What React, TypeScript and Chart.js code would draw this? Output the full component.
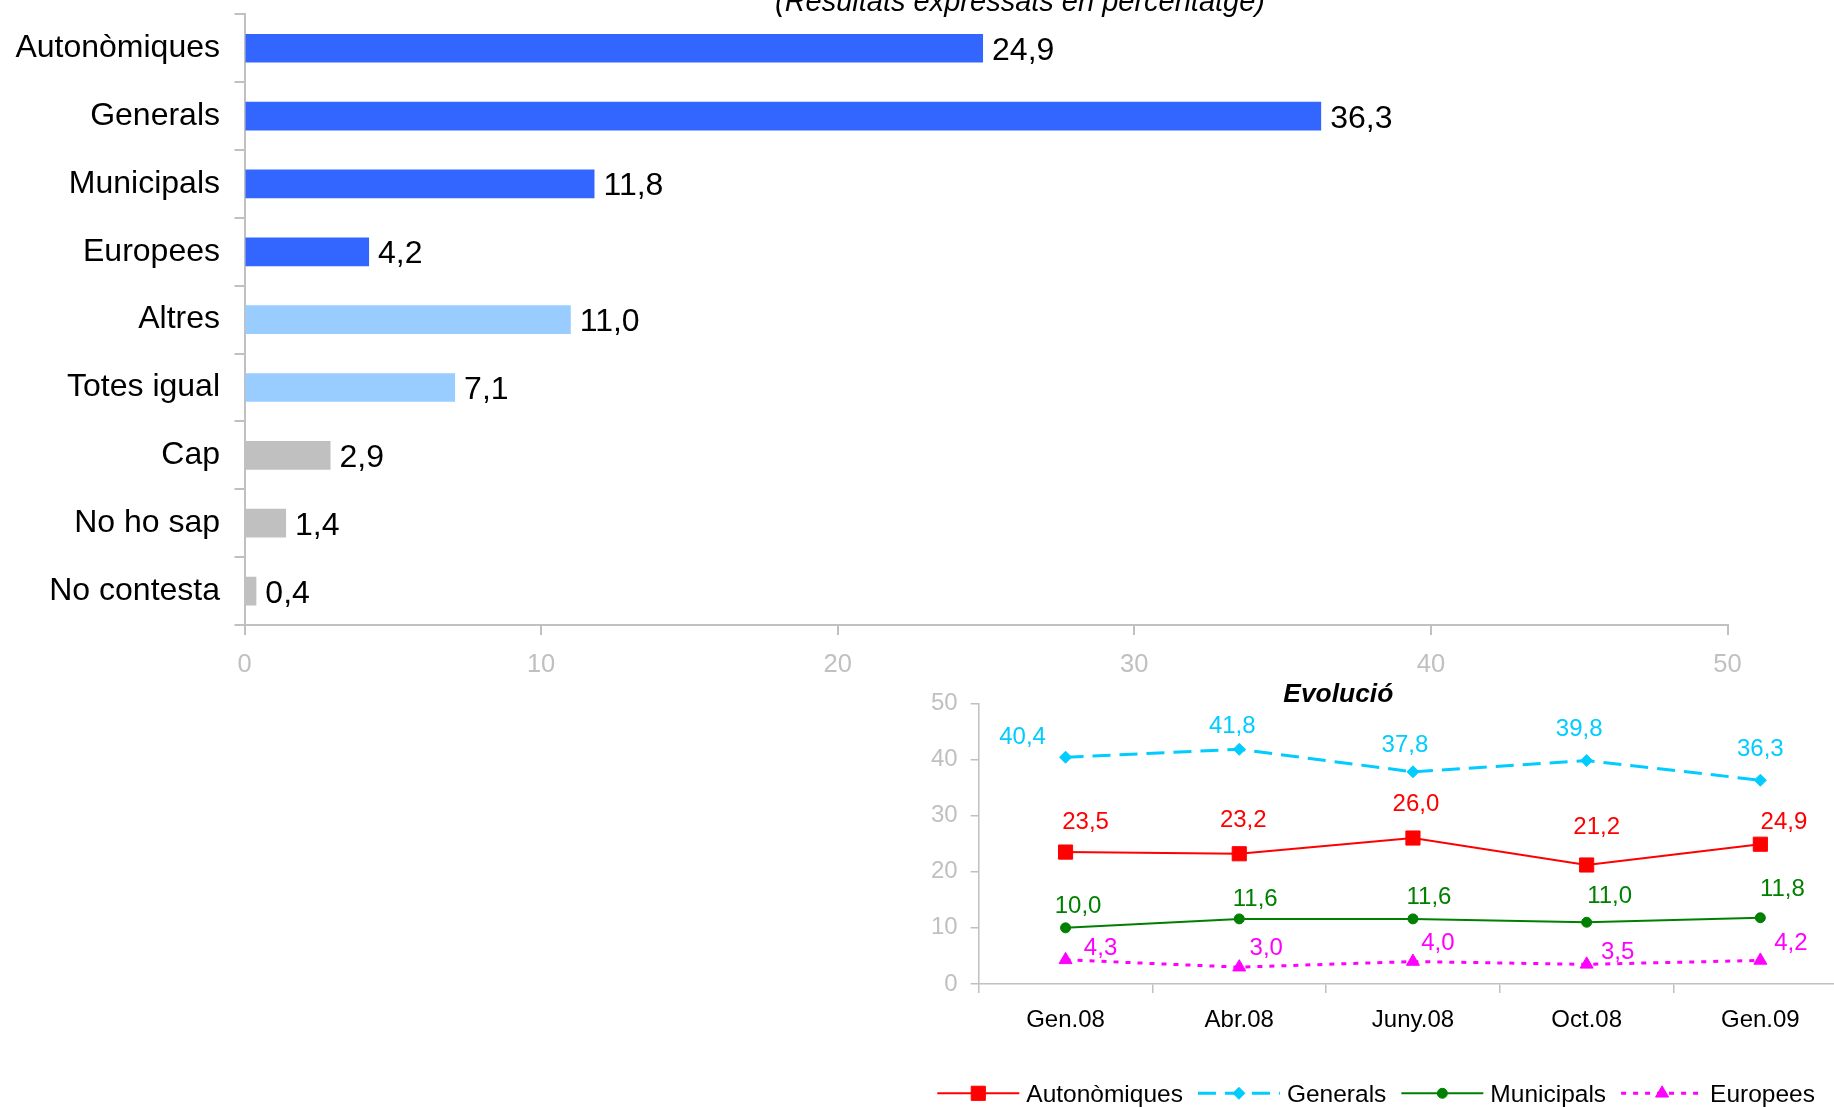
import React, { useEffect, useRef } from 'react';
import { Chart, registerables } from 'chart.js';

Chart.register(...registerables);

const FONT = "'Liberation Sans', Arial, sans-serif";

// ---------- Bar chart data ----------
const barCategories = ['Autonòmiques', 'Generals', 'Municipals', 'Europees', 'Altres', 'Totes igual', 'Cap', 'No ho sap', 'No contesta'];
const barValues = [24.9, 36.3, 11.8, 4.2, 11.0, 7.1, 2.9, 1.4, 0.4];
const barColors = ['#3366FF', '#3366FF', '#3366FF', '#3366FF', '#99CCFF', '#99CCFF', '#C0C0C0', '#C0C0C0', '#C0C0C0'];
const barTitle = '(Resultats expressats en percentatge)';

// ---------- Line chart data ----------
const periods = ['Gen.08', 'Abr.08', 'Juny.08', 'Oct.08', 'Gen.09'];
const seriesNames = ['Autonòmiques', 'Generals', 'Municipals', 'Europees'];
const autonomiques = [23.5, 23.2, 26.0, 21.2, 24.9];
const generals = [40.4, 41.8, 37.8, 39.8, 36.3];
const municipals = [10.0, 11.6, 11.6, 11.0, 11.8];
const europees = [4.3, 3.0, 4.0, 3.5, 4.2];
const lineTitle = 'Evolució';

// ---------- styles ----------
const seriesStyles = [
  { color: '#FF0000', width: 2, dash: [] as number[], marker: 'rect', radius: 10 },
  { color: '#00CCFF', width: 3, dash: [18, 9], marker: 'rectRot', radius: 6 },
  { color: '#008000', width: 2, dash: [] as number[], marker: 'circle', radius: 5 },
  { color: '#FF00FF', width: 3, dash: [5, 7], marker: 'triangle', radius: 7.5 },
];
const labelDx = [
  [20, 4, 3, 10, 23.6],
  [-43, -7, -8, -7.5, 0],
  [12.5, 16, 16, 23, 22],
  [35, 27, 25, 31, 30.6],
];
const labelDy = [
  [-32, -35, -36, -39.6, -23.6],
  [-21.6, -25, -28, -33, -33],
  [-23.4, -21.7, -23.7, -28, -30],
  [-13, -20.5, -20, -14.4, -18.7],
];

const fmt = (v: number) => v.toFixed(1).replace('.', ',');

function drawMarker(ctx: CanvasRenderingContext2D, type: string, x: number, y: number, r: number, color: string) {
  ctx.save();
  ctx.fillStyle = color;
  ctx.strokeStyle = color;
  ctx.lineWidth = 1;
  ctx.setLineDash([]);
  ctx.beginPath();
  if (type === 'rect') {
    const s = Math.SQRT1_2 * r;
    ctx.rect(x - s, y - s, 2 * s, 2 * s);
  } else if (type === 'rectRot') {
    ctx.moveTo(x - r, y);
    ctx.lineTo(x, y - r);
    ctx.lineTo(x + r, y);
    ctx.lineTo(x, y + r);
    ctx.closePath();
  } else if (type === 'circle') {
    ctx.arc(x, y, r, 0, Math.PI * 2);
  } else {
    const w = r * Math.sin(Math.PI / 3);
    ctx.moveTo(x, y - r);
    ctx.lineTo(x + w, y + r / 2);
    ctx.lineTo(x - w, y + r / 2);
    ctx.closePath();
  }
  ctx.fill();
  ctx.stroke();
  ctx.restore();
}

const barLabelsPlugin = {
  id: 'barLabels',
  afterDatasetsDraw(chart: any) {
    const ctx = chart.ctx as CanvasRenderingContext2D;
    const meta = chart.getDatasetMeta(0);
    ctx.save();
    ctx.font = `32px ${FONT}`;
    ctx.fillStyle = '#000';
    ctx.textAlign = 'left';
    ctx.textBaseline = 'alphabetic';
    meta.data.forEach((el: any, i: number) => {
      ctx.fillText(fmt(barValues[i]), el.x + 9, el.y + 11.5);
    });
    ctx.font = `italic 29px ${FONT}`;
    ctx.textAlign = 'center';
    ctx.fillText(barTitle, 1020, 11);
    ctx.restore();
  },
};

const insetPlugin = {
  id: 'insetExtras',
  afterDatasetsDraw(chart: any) {
    const ctx = chart.ctx as CanvasRenderingContext2D;
    ctx.save();
    ctx.textAlign = 'center';
    ctx.textBaseline = 'alphabetic';
    ctx.font = `24px ${FONT}`;
    chart.data.datasets.forEach((ds: any, i: number) => {
      const meta = chart.getDatasetMeta(i);
      ctx.fillStyle = seriesStyles[i].color;
      meta.data.forEach((el: any, j: number) => {
        ctx.fillText(fmt(ds.data[j]), el.x + labelDx[i][j], el.y + labelDy[i][j] + 8.6);
      });
    });
    // title
    ctx.font = `italic bold 26.4px ${FONT}`;
    ctx.fillStyle = '#000';
    ctx.fillText(lineTitle, 438.3, 51.7);
    // legend
    let x = 37.3;
    const y = 443.3;
    ctx.font = `24.5px ${FONT}`;
    seriesNames.forEach((name, i) => {
      const st = seriesStyles[i];
      ctx.save();
      ctx.strokeStyle = st.color;
      ctx.lineWidth = st.width;
      ctx.setLineDash(st.dash);
      ctx.beginPath();
      ctx.moveTo(x, y);
      ctx.lineTo(x + 82, y);
      ctx.stroke();
      ctx.restore();
      drawMarker(ctx, st.marker, x + 41, y, st.radius, st.color);
      ctx.fillStyle = '#000';
      ctx.textAlign = 'left';
      ctx.fillText(name, x + 89, y + 0.358 * 24.5);
      x += 89 + ctx.measureText(name).width + 15;
    });
    ctx.restore();
  },
};

export default function App() {
  const barRef = useRef<HTMLCanvasElement>(null);
  const lineRef = useRef<HTMLCanvasElement>(null);

  useEffect(() => {
    const bar = new Chart(barRef.current as HTMLCanvasElement, {
      type: 'bar',
      data: {
        labels: barCategories,
        datasets: [
          {
            data: barValues,
            backgroundColor: barColors,
            borderWidth: 0,
            barPercentage: 0.423,
            categoryPercentage: 1,
          },
        ],
      },
      options: {
        indexAxis: 'y',
        responsive: false,
        maintainAspectRatio: false,
        animation: false,
        events: [],
        layout: { padding: { left: 0, top: 14.3, right: 106.5, bottom: 25 } },
        plugins: {
          legend: { display: false },
          title: { display: false },
          tooltip: { enabled: false },
        },
        scales: {
          x: {
            type: 'linear',
            min: 0,
            max: 50,
            ticks: { stepSize: 10, color: '#C0C0C0', font: { family: FONT, size: 25.5 }, padding: 15 },
            grid: { drawOnChartArea: false, drawTicks: true, tickLength: 10, color: '#C0C0C0', lineWidth: 2 },
            border: { color: '#C0C0C0', width: 2 },
            afterFit(s: any) {
              s.height = 70;
              s.paddingLeft = 0;
              s.paddingRight = 0;
            },
          },
          y: {
            ticks: { color: '#000', font: { family: FONT, size: 32 }, padding: 14.5 },
            grid: { drawOnChartArea: false, offset: true, tickLength: 10, color: '#C0C0C0', lineWidth: 2 },
            border: { color: '#C0C0C0', width: 2 },
            afterFit(s: any) {
              s.width = 244.5;
              s.paddingTop = 0;
              s.paddingBottom = 0;
            },
          },
        },
      } as any,
      plugins: [barLabelsPlugin],
    });

    const seriesData = [autonomiques, generals, municipals, europees];
    const line = new Chart(lineRef.current as HTMLCanvasElement, {
      type: 'line',
      data: {
        labels: periods,
        datasets: seriesNames.map((name, i) => ({
          label: name,
          data: seriesData[i],
          borderColor: seriesStyles[i].color,
          backgroundColor: seriesStyles[i].color,
          borderWidth: seriesStyles[i].width,
          borderDash: seriesStyles[i].dash,
          tension: 0,
          fill: false,
          pointStyle: seriesStyles[i].marker,
          pointRadius: seriesStyles[i].radius,
          pointBackgroundColor: seriesStyles[i].color,
          pointBorderColor: seriesStyles[i].color,
          pointBorderWidth: 1,
        })),
      },
      options: {
        responsive: false,
        maintainAspectRatio: false,
        animation: false,
        events: [],
        layout: { padding: { left: 0, top: 53.3, right: 12.8, bottom: 63 } },
        plugins: {
          legend: { display: false },
          title: { display: false },
          tooltip: { enabled: false },
        },
        scales: {
          x: {
            type: 'category',
            offset: true,
            ticks: { color: '#000', font: { family: FONT, size: 24 }, padding: 12.6 },
            grid: { offset: true, drawOnChartArea: false, tickLength: 9, color: '#C0C0C0', lineWidth: 1.5 },
            border: { color: '#C0C0C0', width: 1.5 },
            afterFit(s: any) {
              s.height = 60;
              s.paddingLeft = 0;
              s.paddingRight = 0;
            },
          },
          y: {
            min: 0,
            max: 50,
            ticks: { stepSize: 10, color: '#C0C0C0', font: { family: FONT, size: 24 }, padding: 13 },
            grid: { drawOnChartArea: false, tickLength: 8, color: '#C0C0C0', lineWidth: 1.5 },
            border: { color: '#C0C0C0', width: 1.5 },
            afterFit(s: any) {
              s.width = 78.7;
              s.paddingTop = 0;
              s.paddingBottom = 0;
            },
          },
        },
      } as any,
      plugins: [insetPlugin],
    });

    return () => {
      bar.destroy();
      line.destroy();
    };
  }, []);

  return (
    <div
      style={{
        position: 'fixed',
        left: 0,
        top: 0,
        width: 1834,
        height: 1107,
        overflow: 'hidden',
        background: '#fff',
      }}
    >
      <canvas
        ref={barRef}
        width={1834}
        height={720}
        style={{ position: 'absolute', left: 0, top: 0, width: 1834, height: 720 }}
      />
      <canvas
        ref={lineRef}
        width={960}
        height={457}
        style={{ position: 'absolute', left: 900, top: 650, width: 960, height: 457 }}
      />
    </div>
  );
}
